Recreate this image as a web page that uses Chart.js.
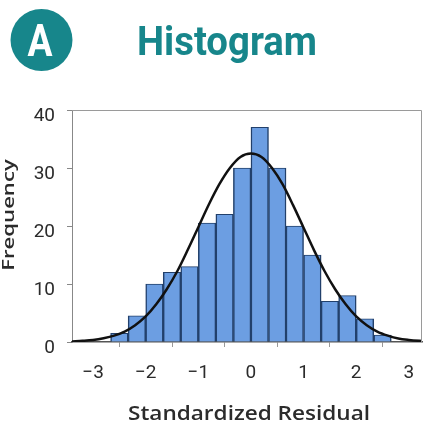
<!DOCTYPE html>
<html>
<head>
<meta charset="utf-8">
<script src="https://cdn.jsdelivr.net/npm/chart.js@4.4.0/dist/chart.umd.min.js"></script>
<style>
  html, body { margin: 0; padding: 0; background: #fff; }
  #wrap { width: 431px; height: 428px; position: relative; }
</style>
</head>
<body>
<div id="wrap"><canvas id="hist"></canvas></div>
<script>
const binCenters = [-2.5, -2.167, -1.833, -1.5, -1.167, -0.833, -0.5, -0.167,
                    0.167, 0.5, 0.833, 1.167, 1.5, 1.833, 2.167, 2.5];
const counts     = [1.5, 4.5, 10, 12, 13, 20.5, 22, 30,
                    37, 30, 20, 15, 7, 8, 4, 1.2];

// fitted normal curve, read at every 0.2
const curveX = [-3.4, -3.2, -3.0, -2.8, -2.6, -2.4, -2.2, -2.0, -1.8, -1.6, -1.4, -1.2,
                -1.0, -0.8, -0.6, -0.4, -0.2, 0, 0.2, 0.4, 0.6, 0.8, 1.0, 1.2,
                1.4, 1.6, 1.8, 2.0, 2.2, 2.4, 2.6, 2.8, 3.0, 3.2, 3.4];
const curveY = [0.1, 0.2, 0.35, 0.65, 1.1, 1.8, 2.9, 4.4, 6.5, 9.1, 12.2, 15.9,
                19.8, 23.7, 27.2, 30.0, 31.9, 32.5, 31.9, 30.0, 27.2, 23.6, 19.7, 15.8,
                12.2, 9.1, 6.5, 4.4, 2.9, 1.8, 1.1, 0.6, 0.35, 0.2, 0.1];

const xTicks = [-3, -2, -1, 0, 1, 2, 3];
const yTicks = [0, 10, 20, 30, 40];

const panelLetter = 'A';
const chartTitle  = 'Histogram';
const xTitle      = 'Standardized Residual';
const yTitle      = 'Frequency';

const TEAL = '#17868b';
const INK  = '#2b2b2b';

// — text squeezed to a given width —
function fitText(ctx, txt, x, y, w) {
  const m = ctx.measureText(txt).width;
  ctx.save();
  ctx.translate(x, y);
  ctx.scale(Math.min(1.3, w / m), 1);
  ctx.fillText(txt, 0, 0);
  ctx.restore();
}

// — header, frame and axis titles —
const decor = {
  id: 'decor',
  beforeDraw(chart) {
    const c = chart.ctx;
    c.save();
    c.fillStyle = '#fff';
    c.fillRect(0, 0, chart.width, chart.height);
    c.restore();
  },
  afterDraw(chart) {
    const c = chart.ctx, a = chart.chartArea;
    c.save();

    // top + right frame
    c.strokeStyle = '#9a9a9a';
    c.lineWidth = 1;
    c.beginPath();
    c.moveTo(a.left, a.top + 0.5);
    c.lineTo(a.right - 0.5, a.top + 0.5);
    c.lineTo(a.right - 0.5, a.bottom);
    c.stroke();

    // badge
    c.fillStyle = TEAL;
    c.beginPath();
    c.arc(41.5, 40, 31, 0, Math.PI * 2);
    c.fill();
    c.fillStyle = '#fff';
    c.font = 'bold 44px Roboto';
    c.textAlign = 'center';
    c.textBaseline = 'alphabetic';
    fitText(c, panelLetter, 40, 56, 25);

    // title
    c.fillStyle = TEAL;
    c.textAlign = 'left';
    c.font = 'bold 41px Roboto';
    fitText(c, chartTitle, 137, 55, 180);

    // x title
    c.fillStyle = INK;
    c.textAlign = 'center';
    c.font = '600 20px "Open Sans"';
    fitText(c, xTitle, 249, 420, 242);

    // y title
    c.save();
    c.translate(9, 215);
    c.rotate(-Math.PI / 2);
    c.textBaseline = 'middle';
    c.font = '600 17px "Open Sans"';
    fitText(c, yTitle, 0, 0, 124);
    c.restore();

    c.restore();
  }
};

const minus = v => String(v).replace('-', '\u2212');

new Chart(document.getElementById('hist'), {
  type: 'bar',
  data: {
    datasets: [
      {
        type: 'line',
        data: curveX.map((x, i) => ({ x: x, y: curveY[i] })),
        borderColor: '#111',
        borderWidth: 2.5,
        pointRadius: 0,
        cubicInterpolationMode: 'monotone',
        fill: false,
        order: 0
      },
      {
        data: binCenters.map((x, i) => ({ x: x, y: counts[i] })),
        backgroundColor: '#6c9ee2',
        borderColor: '#22406b',
        borderWidth: { left: 1.5, right: 1.5, top: 1, bottom: 0 },
        borderSkipped: false,
        barPercentage: 1,
        categoryPercentage: 1,
        order: 1
      }
    ]
  },
  options: {
    responsive: true,
    maintainAspectRatio: false,
    animation: false,
    layout: { padding: { top: 110, right: 9, left: 0, bottom: 0 } },
    plugins: { legend: { display: false }, tooltip: { enabled: false } },
    scales: {
      x: {
        type: 'linear',
        min: -3.4,
        max: 3.25,
        offset: false,
        afterFit(s) { s.height = 86; s.paddingLeft = 0; s.paddingRight = 0; },
        afterBuildTicks(s) { s.ticks = xTicks.map(v => ({ value: v })); },
        grid: { drawOnChartArea: false, drawTicks: true, tickLength: 5, color: '#999' },
        border: { display: true, color: '#555', width: 1.5 },
        ticks: {
          padding: 15,
          color: INK,
          font: { family: 'Roboto', size: 19 },
          callback: v => minus(v)
        }
      },
      y: {
        min: 0,
        max: 40,
        afterFit(s) { s.width = 72; s.paddingTop = 0; s.paddingBottom = 0; },
        afterBuildTicks(s) { s.ticks = yTicks.map(v => ({ value: v })); },
        grid: { drawOnChartArea: false, drawTicks: true, tickLength: 5, color: '#888' },
        border: { display: true, color: '#888', width: 1 },
        ticks: {
          padding: 12,
          labelOffset: 6,
          color: INK,
          font: { family: 'Roboto', size: 19 }
        }
      }
    }
  },
  plugins: [decor]
});
</script>
</body>
</html>
